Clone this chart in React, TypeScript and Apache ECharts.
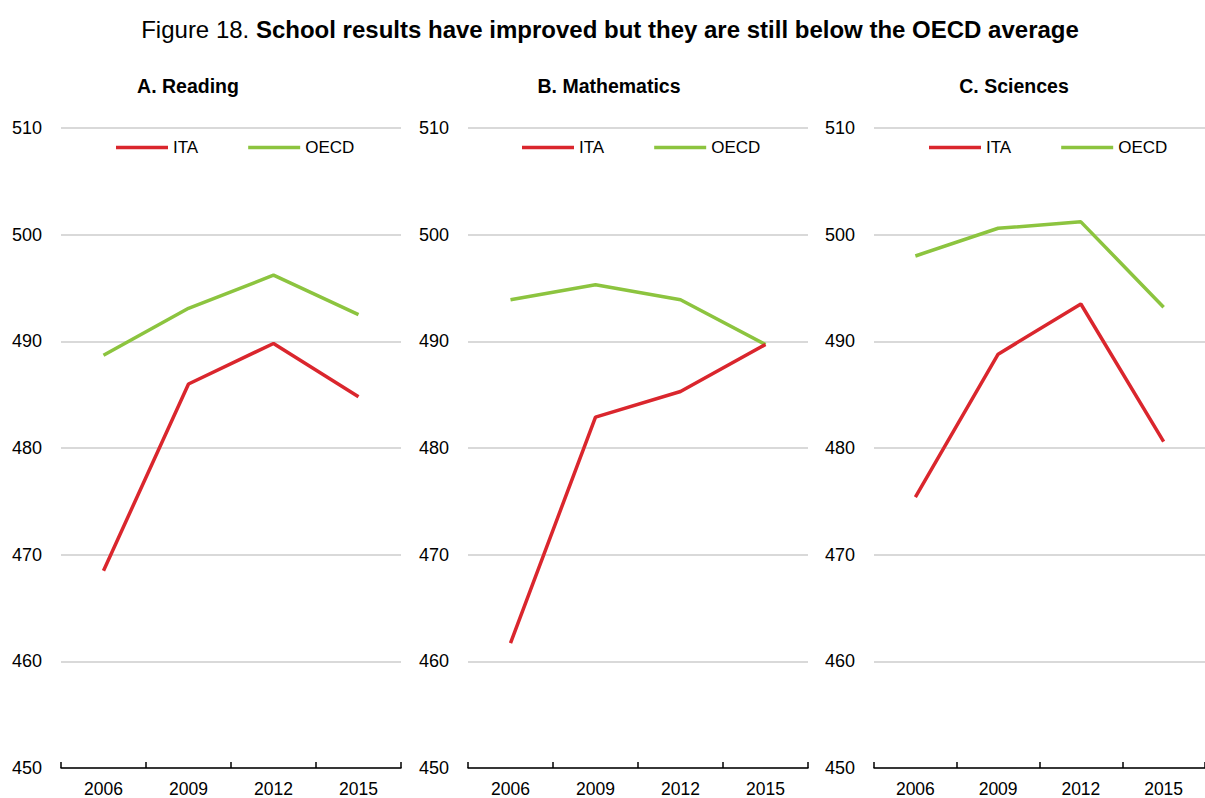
import React, { useEffect, useRef } from "react";
import * as echarts from "echarts";

const years = ["2006", "2009", "2012", "2015"];
const readingITA = [468.5, 486.0, 489.8, 484.8];
const readingOECD = [488.7, 493.1, 496.2, 492.5];
const mathITA = [461.7, 482.9, 485.3, 489.7];
const mathOECD = [493.9, 495.3, 493.9, 489.7];
const sciITA = [475.4, 488.8, 493.5, 480.6];
const sciOECD = [498.0, 500.6, 501.2, 493.2];
const panelTitles = ["A. Reading", "B. Mathematics", "C. Sciences"];
const seriesNames = ["ITA", "OECD"];

const RED = "#DA262D";
const GREEN = "#8CC43F";
const FONT = "'Liberation Sans', Arial, sans-serif";

export default function App() {
  const ref = useRef<HTMLDivElement>(null);
  useEffect(() => {
    if (!ref.current) return;
    const chart = echarts.init(ref.current, undefined, { renderer: "svg" });
    const gridLefts = [61, 468, 874];
    const titleCenters = [188, 609, 1014];
    const legendLefts = [116, 522, 929];
    const panelData = [
      [readingITA, readingOECD],
      [mathITA, mathOECD],
      [sciITA, sciOECD],
    ];
    const grids = gridLefts.map((l) => ({ left: l, width: 340, top: 128, bottom: 26 }));
    const xAxes = gridLefts.map((_, i) => ({
      type: "category",
      gridIndex: i,
      data: years,
      boundaryGap: true,
      axisLine: { show: true, lineStyle: { color: "#000", width: 1.5 } },
      axisTick: { show: true, inside: true, length: 6, lineStyle: { color: "#000", width: 1.5 } },
      axisLabel: { color: "#000", fontSize: 17.5, fontFamily: FONT, margin: 12 },
    }));
    const yAxes = gridLefts.map((_, i) => ({
      type: "value",
      gridIndex: i,
      min: 450,
      max: 510,
      interval: 10,
      axisLine: { show: false },
      axisTick: { show: false },
      axisLabel: { color: "#000", fontSize: 18, fontFamily: FONT, margin: 19 },
      splitLine: { show: true, lineStyle: { color: "#D9D9D9", width: 2 } },
    }));
    const series: any[] = [];
    panelData.forEach((pair, i) => {
      pair.forEach((vals, j) => {
        series.push({
          type: "line",
          name: seriesNames[j],
          xAxisIndex: i,
          yAxisIndex: i,
          data: vals,
          symbol: "none",
          lineStyle: { color: j === 0 ? RED : GREEN, width: 3.5 },
          itemStyle: { color: j === 0 ? RED : GREEN },
          z: j === 0 ? 3 : 2,
        });
      });
    });
    const legends = legendLefts.map((l) => ({
      left: l,
      top: 139,
      data: seriesNames,
      icon: "rect",
      itemWidth: 52,
      itemHeight: 3.5,
      itemGap: 50,
      padding: 0,
      textStyle: { color: "#000", fontSize: 17, fontFamily: FONT },
      selectedMode: false,
    }));
    const graphics: any[] = [
      {
        type: "text",
        x: 610,
        y: 29,
        style: {
          text: "{n|Figure 18. }{b|School results have improved but they are still below the OECD average}",
          align: "center",
          verticalAlign: "middle",
          rich: {
            n: { fontSize: 24, fontFamily: FONT, fill: "#000" },
            b: { fontSize: 24, fontFamily: FONT, fontWeight: "bold", fill: "#000" },
          },
        },
      },
      ...panelTitles.map((t, i) => ({
        type: "text",
        x: titleCenters[i],
        y: 86,
        style: {
          text: t,
          align: "center",
          verticalAlign: "middle",
          fontSize: 19.5,
          fontWeight: "bold",
          fontFamily: FONT,
          fill: "#000",
        },
      })),
    ];
    chart.setOption({
      animation: false,
      backgroundColor: "#fff",
      grid: grids,
      xAxis: xAxes,
      yAxis: yAxes,
      legend: legends,
      series,
      graphic: graphics,
    });
    return () => chart.dispose();
  }, []);
  return (
    <div
      ref={ref}
      style={{ position: "fixed", left: 0, top: 0, width: 1205, height: 798, background: "#fff" }}
    />
  );
}
